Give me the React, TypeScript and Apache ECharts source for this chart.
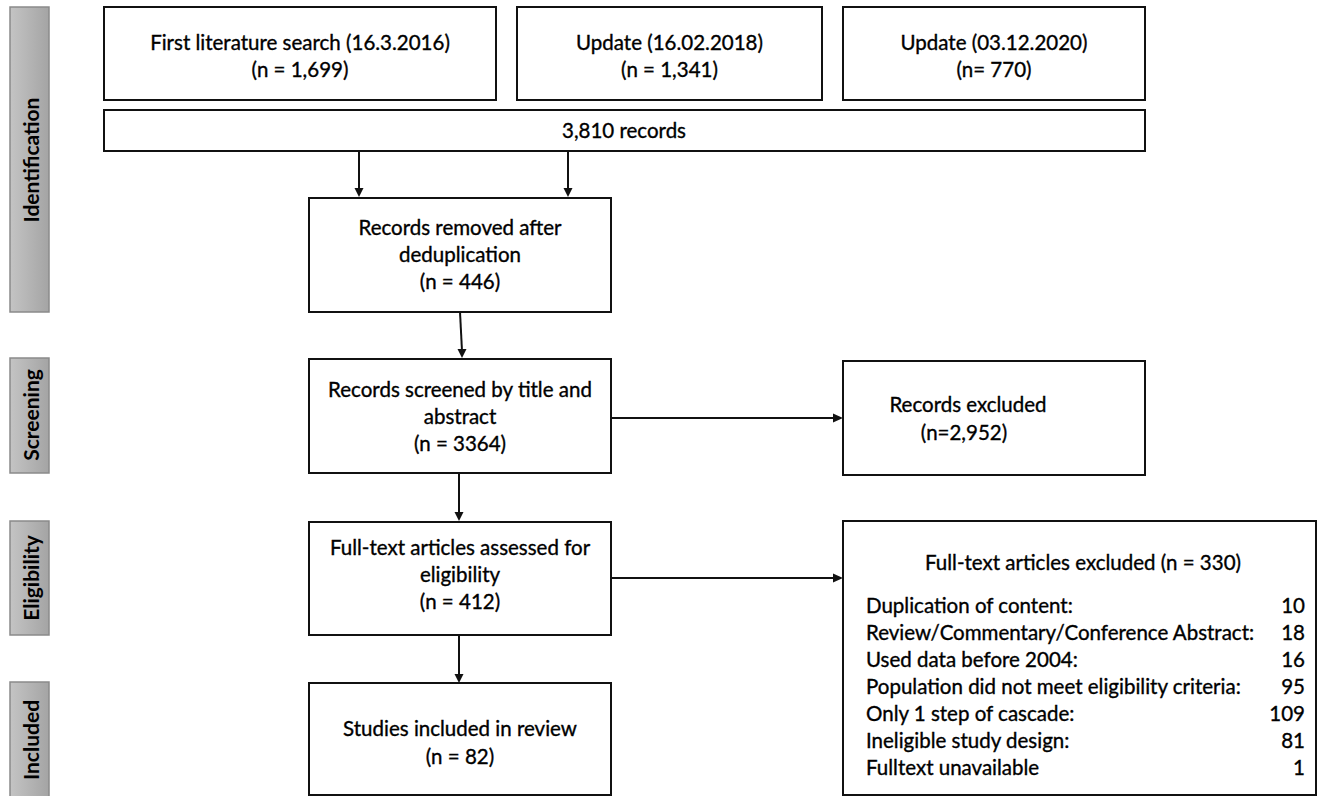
import React, { useEffect, useRef } from "react";
import * as echarts from "echarts";

const stageLabels = ["Identification", "Screening", "Eligibility", "Included"];
const searchTitles = ["First literature search (16.3.2016)", "Update (16.02.2018)", "Update (03.12.2020)"];
const searchCounts = ["(n = 1,699)", "(n = 1,341)", "(n= 770)"];
const totalRecords = "3,810 records";
const dedupLines = ["Records removed after", "deduplication", "(n = 446)"];
const screenedLines = ["Records screened by title and", "abstract", "(n = 3364)"];
const excludedLines = ["Records excluded", "(n=2,952)"];
const fulltextLines = ["Full-text articles assessed for", "eligibility", "(n = 412)"];
const includedLines = ["Studies included in review", "(n = 82)"];
const exclusionTitle = "Full-text articles excluded (n = 330)";
const exclusionReasons = [
  "Duplication of content:",
  "Review/Commentary/Conference Abstract:",
  "Used data before 2004:",
  "Population did not meet eligibility criteria:",
  "Only 1 step of cascade:",
  "Ineligible study design:",
  "Fulltext unavailable",
];
const exclusionCounts = [10, 18, 16, 95, 109, 81, 1];

const FONT = 'Lato, "Noto Sans", sans-serif';
const FS = 20.5;

function box(x: number, y: number, w: number, h: number) {
  return {
    type: "rect",
    shape: { x, y, width: w, height: h },
    style: { fill: "#fff", stroke: "#111", lineWidth: 2 },
  };
}

function txt(s: string, x: number, y: number, align = "center", size = FS, weight = "normal") {
  return {
    type: "text",
    x,
    y,
    style: {
      text: s,
      font: `${weight} ${size}px ${FONT}`,
      fill: "#000",
      stroke: "#000",
      lineWidth: weight === "normal" ? 0.35 : 0,
      align,
      textAlign: align,
      verticalAlign: "middle",
      textVerticalAlign: "middle",
    },
  };
}

function lines(arr: string[], cx: number, y0: number, dy: number) {
  return arr.map((s, i) => txt(s, cx, y0 + i * dy));
}

function arrowDown(x1: number, y1: number, x2: number, y2: number) {
  return [
    { type: "line", shape: { x1, y1, x2, y2: y2 - 7 }, style: { stroke: "#111", lineWidth: 2 } },
    { type: "polygon", shape: { points: [[x2 - 4.5, y2 - 9], [x2 + 4.5, y2 - 9], [x2, y2]] }, style: { fill: "#111" } },
  ];
}

function arrowRight(x1: number, y: number, x2: number) {
  return [
    { type: "line", shape: { x1, y1: y, x2: x2 - 7, y2: y }, style: { stroke: "#111", lineWidth: 2 } },
    { type: "polygon", shape: { points: [[x2 - 10, y - 4.5], [x2 - 10, y + 4.5], [x2, y]] }, style: { fill: "#111" } },
  ];
}

function stage(label: string, y: number, h: number, cy: number) {
  return [
    {
      type: "rect",
      shape: { x: 10, y, width: 39, height: h },
      style: {
        fill: {
          type: "linear", x: 0, y: 0, x2: 1, y2: 0,
          colorStops: [{ offset: 0, color: "#c4c4c4" }, { offset: 1, color: "#a4a4a4" }],
        },
        stroke: "#8a8a8a",
        lineWidth: 1.5,
      },
    },
    {
      type: "group",
      x: 30,
      y: cy,
      rotation: Math.PI / 2,
      children: [txt(label, 0, 0, "center", 21, "bold")],
    },
  ];
}

export default function App() {
  const ref = useRef<HTMLDivElement>(null);
  useEffect(() => {
    if (!ref.current) return;
    const chart = echarts.init(ref.current, undefined, { renderer: "svg" });
    const els: any[] = [];
    // stage bars
    els.push(...stage(stageLabels[0], 7, 305, 160));
    els.push(...stage(stageLabels[1], 358, 115, 415));
    els.push(...stage(stageLabels[2], 521, 114, 578));
    els.push(...stage(stageLabels[3], 682, 120, 740));

    // search boxes
    const sb = [
      [104, 392],
      [517, 305],
      [843, 302],
    ];
    sb.forEach(([x, w], i) => {
      els.push(box(x, 7, w, 93));
      els.push(txt(searchTitles[i], x + w / 2, 42));
      els.push(txt(searchCounts[i], x + w / 2, 69));
    });
    els.push(box(104, 110, 1041, 41));
    els.push(txt(totalRecords, 624, 130));

    // arrows to dedup
    els.push(...arrowDown(359, 151, 359, 197));
    els.push(...arrowDown(568, 151, 568, 197));

    // dedup
    els.push(box(309, 198, 302, 114));
    els.push(...lines(dedupLines, 460, 227, 27));
    els.push(...arrowDown(460, 312, 462, 358));

    // screened
    els.push(box(309, 359, 302, 114));
    els.push(...lines(screenedLines, 460, 389, 27));
    els.push(...arrowRight(611, 418, 843));
    els.push(box(843, 361, 302, 114));
    els.push(txt(excludedLines[0], 968, 404));
    els.push(txt(excludedLines[1], 964, 432));

    els.push(...arrowDown(459, 473, 459, 521));

    // full text
    els.push(box(309, 522, 302, 113));
    els.push(...lines(fulltextLines, 460, 547, 27));
    els.push(...arrowRight(611, 578, 843));

    // exclusion list
    els.push(box(843, 521, 473, 274));
    els.push(txt(exclusionTitle, 1083, 562));
    exclusionReasons.forEach((r, i) => {
      const y = 605 + i * 27;
      els.push(txt(r, 866, y, "left"));
      els.push(txt(String(exclusionCounts[i]), 1305, y, "right"));
    });

    els.push(...arrowDown(459, 635, 459, 683));

    // included
    els.push(box(309, 683, 302, 112));
    els.push(...lines(includedLines, 460, 728, 28));

    chart.setOption({
      animation: false,
      backgroundColor: "#fff",
      graphic: { elements: els },
    });
    return () => chart.dispose();
  }, []);
  return (
    <div
      ref={ref}
      style={{ position: "fixed", left: 0, top: 0, width: 1317, height: 796, background: "#fff" }}
    />
  );
}
